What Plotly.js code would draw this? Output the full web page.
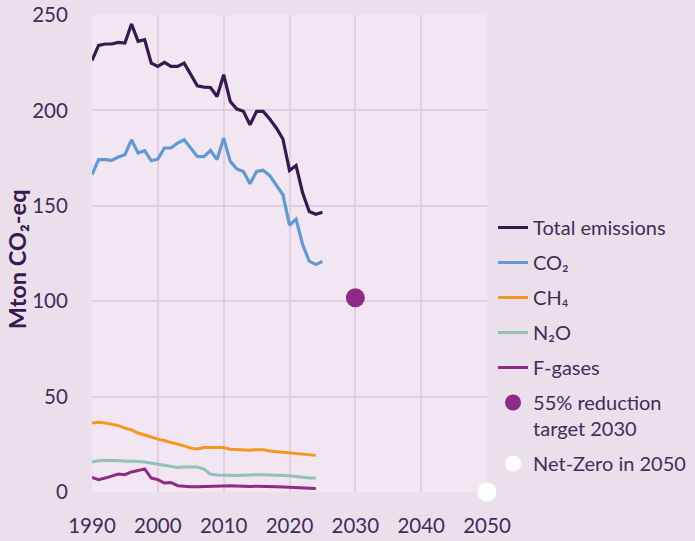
<!DOCTYPE html>
<html>
<head>
<meta charset="utf-8">
<script src="https://cdn.plot.ly/plotly-3.0.1.min.js"></script>
<style>html,body{margin:0;padding:0;background:#ecdfec;}#chart{width:695px;height:541px;}</style>
</head>
<body>
<div id="chart"></div>
<script>
const yearsTotal = [1990,1991,1992,1993,1994,1995,1996,1997,1998,1999,2000,2001,2002,2003,2004,2005,2006,2007,2008,2009,2010,2011,2012,2013,2014,2015,2016,2017,2018,2019,2020,2021,2022,2023,2024,2025];
const yearsGases = yearsTotal.slice(0, 35);

const totalEmissions = [226.2,234.1,234.8,234.8,235.6,235.3,245.3,236.2,237.1,224.8,223.1,225.2,223.1,223.1,224.8,218.7,212.9,212.2,212.0,207.3,218.7,204.7,200.7,199.5,192.5,199.5,199.5,195.5,190.8,185.0,168.5,171.1,156.7,147.0,145.6,146.6];
const co2 = [166.3,174.2,174.2,173.8,175.6,176.8,184.6,177.7,178.9,173.6,174.5,180.3,180.3,182.9,184.6,180.0,175.9,175.8,179.0,174.2,185.5,173.3,169.3,168.0,161.6,168.0,168.6,165.8,161.1,155.8,139.8,143.0,129.6,121.0,119.2,120.9];
const ch4 = [36.2,36.5,36.2,35.6,34.8,33.5,32.6,30.9,30.0,28.8,27.7,27.0,25.9,25.1,24.2,23.0,22.6,23.3,23.4,23.4,23.3,22.4,22.2,21.9,21.9,22.2,22.2,21.5,21.2,20.8,20.5,20.1,19.8,19.4,19.2];
const n2o = [15.7,16.4,16.6,16.6,16.4,16.2,16.2,16.0,15.7,15.2,14.8,14.3,13.4,12.9,13.1,13.2,13.1,12.0,9.3,8.9,8.7,8.6,8.6,8.8,9.0,9.1,9.0,9.0,8.8,8.7,8.5,8.1,7.5,7.4,7.4];
const fgases = [7.7,6.5,7.3,8.2,9.4,9.1,10.5,11.3,12.1,7.3,6.5,4.7,5.0,3.3,2.9,2.8,2.8,2.9,3.0,3.2,3.5,3.3,3.2,3.0,2.9,3.0,3.0,2.8,2.7,2.6,2.5,2.3,2.1,1.9,1.8];

const targetYear = [2030];
const targetValue = [101.8];
const netZeroYear = [2050];
const netZeroValue = [0];

const seriesNames = ['Total emissions','CO₂','CH₄','N₂O','F-gases','55% reduction<br>target 2030','Net-Zero in 2050'];
const xTicks = [1990,2000,2010,2020,2030,2040,2050];
const yTicks = [0,50,100,150,200,250];
const yAxisTitle = 'Mton CO₂-eq';

const textColor = '#3f2d5a';
const font = 'Lato, "Open Sans", sans-serif';

function lineTrace(x, y, name, color, width, g) {
  return {x: x, y: y, name: name, type: 'scatter', mode: 'lines',
    line: {color: color, width: width}, legendgroup: g, hoverinfo: 'skip'};
}

const data = [
  lineTrace(yearsTotal, totalEmissions, seriesNames[0], '#36194f', 3.2, 'a'),
  lineTrace(yearsTotal, co2, seriesNames[1], '#6199d0', 3.2, 'b'),
  lineTrace(yearsGases, ch4, seriesNames[2], '#f5961e', 3, 'c'),
  lineTrace(yearsGases, n2o, seriesNames[3], '#8fc3b7', 3, 'd'),
  lineTrace(yearsGases, fgases, seriesNames[4], '#8f2a86', 3, 'e'),
  {x: targetYear, y: targetValue, name: seriesNames[5], type: 'scatter', mode: 'markers',
   marker: {color: '#8f2a86', size: 19}, legendgroup: 'f', hoverinfo: 'skip', cliponaxis: false},
  {x: netZeroYear, y: netZeroValue, name: seriesNames[6], type: 'scatter', mode: 'markers',
   marker: {color: '#ffffff', size: 19}, legendgroup: 'g', hoverinfo: 'skip', cliponaxis: false}
];

const layout = {
  width: 695, height: 541,
  margin: {l: 92, r: 208, t: 15, b: 49},
  paper_bgcolor: '#ecdfec',
  plot_bgcolor: '#f1e6f1',
  font: {family: font, color: textColor, size: 18},
  showlegend: true,
  hovermode: false,
  legend: {xref: 'container', yref: 'container', x: 0.7094, xanchor: 'left', y: 0.6155, yanchor: 'top', valign: 'top',
    font: {family: font, size: 20, color: textColor}, tracegroupgap: 6,
    bgcolor: 'rgba(0,0,0,0)', itemwidth: 30, borderwidth: 0},
  xaxis: {range: [1990, 2050], tickvals: xTicks, ticktext: xTicks.map(String), fixedrange: true,
    showgrid: true, gridcolor: '#e2cde2', gridwidth: 2, zeroline: false, showline: false,
    ticks: 'outside', ticklen: 15, tickcolor: 'rgba(0,0,0,0)',
    tickfont: {family: font, size: 20.5, color: textColor}},
  yaxis: {range: [0, 250], tickvals: yTicks, ticktext: yTicks.map(String), fixedrange: true,
    showgrid: true, gridcolor: '#e2cde2', gridwidth: 2, zeroline: false, showline: false,
    ticks: 'outside', ticklen: 19, tickcolor: 'rgba(0,0,0,0)',
    tickfont: {family: font, size: 20.5, color: textColor}},
  annotations: [{text: yAxisTitle, xref: 'paper', yref: 'paper', x: -0.19, y: 0.488,
    xanchor: 'center', yanchor: 'middle', textangle: -90, showarrow: false,
    font: {family: font, size: 23.5, color: '#36194f', weight: 'bold'}}]
};

Plotly.newPlot('chart', data, layout, {displayModeBar: false, staticPlot: true});
</script>
</body>
</html>
